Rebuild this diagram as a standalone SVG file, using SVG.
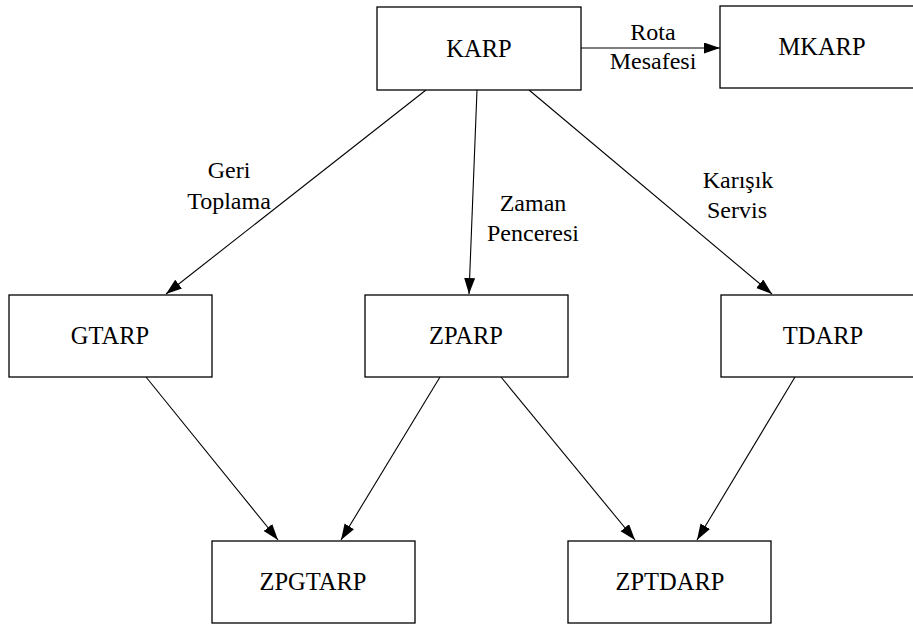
<svg xmlns="http://www.w3.org/2000/svg" width="913" height="624" viewBox="0 0 913 624">
<style>
.box{fill:#fff;stroke:#000;stroke-width:1.3}
text{font-family:'Liberation Serif','Times New Roman','DejaVu Serif',serif;text-anchor:middle;fill:#000}
.lbl{font-size:24.5px}
.elbl{font-size:24px}
.edge{stroke:#000;stroke-width:1.1;fill:none;marker-end:url(#arr)}
</style>
<defs>
<marker id="arr" markerUnits="userSpaceOnUse" markerWidth="16" markerHeight="12" refX="16" refY="5.5" orient="auto">
<path d="M0,0 L16,5.5 L0,11 z" fill="#000"/>
</marker>
</defs>
<rect width="913" height="624" fill="#fff"/>
<g id="edges">
<line class="edge" x1="581" y1="48" x2="720" y2="48"/>
<line class="edge" x1="426" y1="90" x2="166" y2="294"/>
<line class="edge" x1="477" y1="90" x2="469" y2="294"/>
<line class="edge" x1="529" y1="90" x2="772" y2="294"/>
<line class="edge" x1="146" y1="377" x2="278" y2="540"/>
<line class="edge" x1="440" y1="377" x2="341" y2="540"/>
<line class="edge" x1="501" y1="377" x2="635" y2="540"/>
<line class="edge" x1="795" y1="377" x2="697" y2="540"/>
<text class="elbl" x="653" y="40">Rota</text>
<text class="elbl" x="653" y="69">Mesafesi</text>
<text class="elbl" x="229" y="178">Geri</text>
<text class="elbl" x="229" y="209">Toplama</text>
<text class="elbl" x="533" y="211">Zaman</text>
<text class="elbl" x="533" y="241">Penceresi</text>
<text class="elbl" x="738" y="188">Karışık</text>
<text class="elbl" x="737" y="218">Servis</text>
</g>
<g id="KARP"><rect class="box" x="377" y="7" width="204" height="83"/><text class="lbl" x="479" y="57">KARP</text></g>
<g id="MKARP"><rect class="box" x="720" y="6" width="204" height="82"/><text class="lbl" x="822" y="55">MKARP</text></g>
<g id="GTARP"><rect class="box" x="9" y="295" width="203" height="82"/><text class="lbl" x="110" y="344">GTARP</text></g>
<g id="ZPARP"><rect class="box" x="365" y="295" width="203" height="82"/><text class="lbl" x="466" y="344">ZPARP</text></g>
<g id="TDARP"><rect class="box" x="721" y="295" width="203" height="82"/><text class="lbl" x="823" y="344">TDARP</text></g>
<g id="ZPGTARP"><rect class="box" x="212" y="541" width="203" height="82"/><text class="lbl" x="313" y="590">ZPGTARP</text></g>
<g id="ZPTDARP"><rect class="box" x="568" y="541" width="203" height="82"/><text class="lbl" x="670" y="590">ZPTDARP</text></g>
</svg>
